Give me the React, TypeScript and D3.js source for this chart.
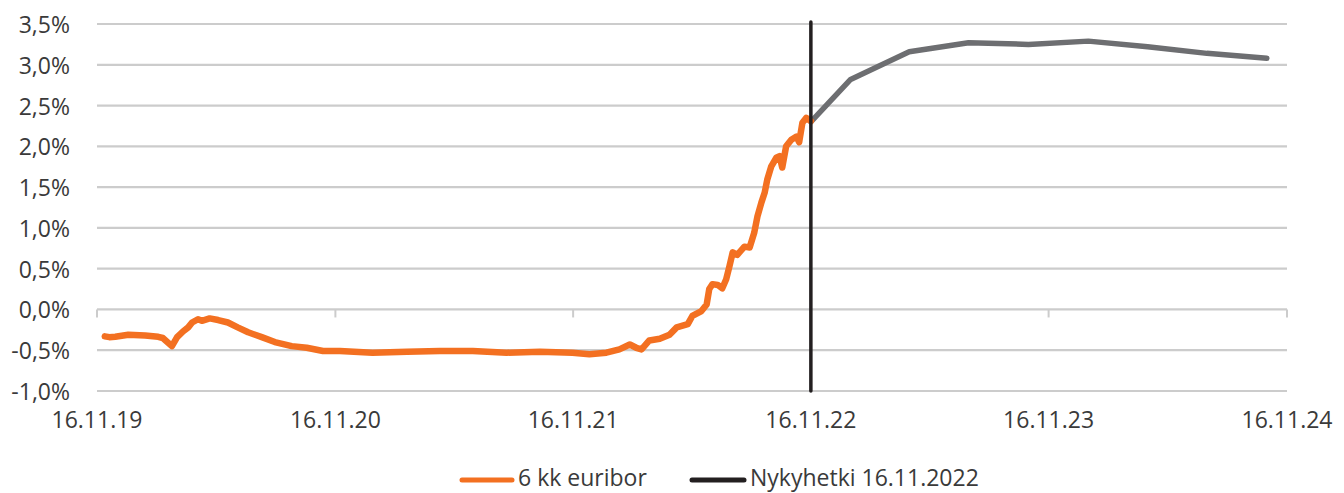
import React from "react";
import * as d3 from "d3";

const euriborDates: string[] = [
  "2019-11-28", "2019-12-05", "2019-12-14", "2020-01-03", "2020-01-29", "2020-02-18", "2020-02-25",
  "2020-03-10", "2020-03-18", "2020-03-27", "2020-04-04", "2020-04-10", "2020-04-19", "2020-04-25",
  "2020-05-07", "2020-05-20", "2020-06-04", "2020-06-19", "2020-07-05", "2020-07-26", "2020-08-15",
  "2020-09-10", "2020-10-03", "2020-10-28", "2020-11-23", "2021-01-12", "2021-03-06", "2021-04-25",
  "2021-06-15", "2021-08-06", "2021-09-26", "2021-11-15", "2021-12-11", "2022-01-06", "2022-01-26",
  "2022-02-11", "2022-02-21", "2022-03-01", "2022-03-13", "2022-03-29", "2022-04-13", "2022-04-24",
  "2022-05-11", "2022-05-18", "2022-06-01", "2022-06-09", "2022-06-13", "2022-06-18", "2022-06-26",
  "2022-07-03", "2022-07-09", "2022-07-14", "2022-07-19", "2022-07-26", "2022-08-06", "2022-08-14",
  "2022-08-21", "2022-08-26", "2022-09-01", "2022-09-06", "2022-09-10", "2022-09-16", "2022-09-24",
  "2022-09-29", "2022-10-03", "2022-10-09", "2022-10-17", "2022-10-25", "2022-10-29", "2022-11-03",
  "2022-11-09", "2022-11-16",
];
const euriborValues: number[] = [
  -0.33, -0.34, -0.335, -0.31, -0.32, -0.335, -0.35,
  -0.45, -0.34, -0.27, -0.22, -0.16, -0.12, -0.14,
  -0.11, -0.13, -0.16, -0.22, -0.28, -0.34, -0.4,
  -0.45, -0.47, -0.51, -0.51, -0.53, -0.52, -0.51,
  -0.51, -0.53, -0.52, -0.53, -0.55, -0.53, -0.49,
  -0.43, -0.47, -0.49, -0.38, -0.36, -0.31, -0.22,
  -0.18, -0.08, -0.02, 0.06, 0.25, 0.31, 0.3,
  0.26, 0.37, 0.53, 0.7, 0.67, 0.77, 0.76,
  0.94, 1.14, 1.31, 1.43, 1.59, 1.75, 1.86,
  1.88, 1.74, 2.0, 2.08, 2.12, 2.05, 2.29,
  2.35, 2.31,
];

const forwardDates: string[] = [
  "2022-11-16", "2023-01-16", "2023-04-16", "2023-07-16", "2023-10-16",
  "2024-01-16", "2024-04-16", "2024-07-16", "2024-10-16",
];
const forwardValues: number[] = [2.3, 2.82, 3.16, 3.27, 3.25, 3.29, 3.22, 3.14, 3.08];

const yTicks: number[] = [-1, -0.5, 0, 0.5, 1, 1.5, 2, 2.5, 3, 3.5];
const xTickDates: string[] = ["2019-11-16", "2020-11-16", "2021-11-16", "2022-11-16", "2023-11-16", "2024-11-16"];
const xTickLabels: string[] = ["16.11.19", "16.11.20", "16.11.21", "16.11.22", "16.11.23", "16.11.24"];
const nowDate = "2022-11-16";
const legendLabels: string[] = ["6 kk euribor", "Nykyhetki 16.11.2022"];

const W = 1344;
const H = 493;
const FONT = "'Open Sans', sans-serif";
const ORANGE = "#f37021";
const GRAY = "#6d6e71";
const BLACK = "#231f20";
const GRID = "#cccccc";
const TEXT = "#3a3a3a";

const parse = d3.utcParse("%Y-%m-%d");

export default function App() {
  const x = d3
    .scaleUtc()
    .domain([parse(xTickDates[0])!, parse(xTickDates[xTickDates.length - 1])!])
    .range([97, 1287]);
  const y = d3.scaleLinear().domain([-1, 3.5]).range([391, 24]);

  const eur = euriborDates.map((d, i) => ({ d: parse(d)!, v: euriborValues[i] }));
  const fwd = forwardDates.map((d, i) => ({ d: parse(d)!, v: forwardValues[i] }));
  const line = d3
    .line<{ d: Date; v: number }>()
    .x((p) => x(p.d))
    .y((p) => y(p.v));

  const fmt = (v: number) => v.toFixed(1).replace(".", ",") + "%";
  const nx = x(parse(nowDate)!);

  return (
    <svg width={W} height={H} style={{ position: "absolute", left: 0, top: 0, background: "#fff" }}>
      {yTicks.map((t) => (
        <line key={"g" + t} x1={x.range()[0]} x2={x.range()[1]} y1={y(t)} y2={y(t)} stroke={GRID} strokeWidth={2.2} />
      ))}
      {xTickDates.map((d) => (
        <line key={"t" + d} x1={x(parse(d)!)} x2={x(parse(d)!)} y1={y(0)} y2={y(0) + 8} stroke={GRID} strokeWidth={2} />
      ))}
      {yTicks.map((t) => (
        <text key={"yl" + t} x={70} y={y(t) + 1} dy="0.35em" textAnchor="end" fontFamily={FONT} fontSize={23} fill={TEXT}>
          {fmt(t)}
        </text>
      ))}
      {xTickDates.map((d, i) => (
        <text key={"xl" + d} x={x(parse(d)!)} y={428} textAnchor="middle" fontFamily={FONT} fontSize={23} fill={TEXT}>
          {xTickLabels[i]}
        </text>
      ))}
      <path d={line(fwd) || ""} fill="none" stroke={GRAY} strokeWidth={5.5} strokeLinejoin="round" strokeLinecap="round" />
      <path d={line(eur) || ""} fill="none" stroke={ORANGE} strokeWidth={6.5} strokeLinejoin="round" strokeLinecap="round" />
      <line x1={nx} x2={nx} y1={y(3.5) - 2} y2={y(-1)} stroke={BLACK} strokeWidth={3.5} strokeLinecap="round" />

      <line x1={462} x2={512} y1={480} y2={480} stroke={ORANGE} strokeWidth={5} strokeLinecap="round" />
      <text x={518} y={478} dy="0.35em" fontFamily={FONT} fontSize={23} fill={TEXT}>
        {legendLabels[0]}
      </text>
      <line x1={692} x2={744} y1={480} y2={480} stroke={BLACK} strokeWidth={5} strokeLinecap="round" />
      <text x={750} y={478} dy="0.35em" fontFamily={FONT} fontSize={23} fill={TEXT}>
        {legendLabels[1]}
      </text>
    </svg>
  );
}
